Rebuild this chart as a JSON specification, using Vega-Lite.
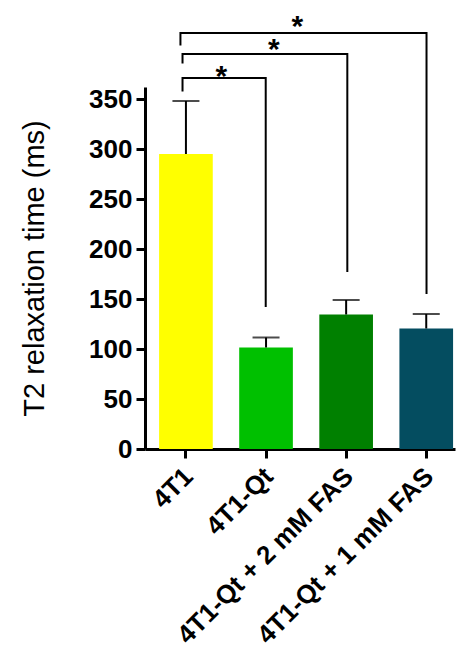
{
  "$schema": "https://vega.github.io/schema/vega-lite/v6.json",
  "width": 310,
  "height": 362,
  "autosize": "none",
  "padding": {"left": 145, "top": 87, "right": 5, "bottom": 204},
  "config": {"view": {"stroke": null}, "font": "Liberation Sans"},
  "datasets": {
    "bars": [
      {"group": "4T1", "t2": 295, "upper": 348},
      {"group": "4T1-Qt", "t2": 101.5, "upper": 111.5},
      {"group": "4T1-Qt + 2 mM FAS", "t2": 134.5, "upper": 149},
      {"group": "4T1-Qt + 1 mM FAS", "t2": 120.5, "upper": 135}
    ],
    "brackets": [
      {"id": "b1", "ord": 1, "pos": -0.066, "val": 403.5},
      {"id": "b1", "ord": 2, "pos": -0.066, "val": 416},
      {"id": "b1", "ord": 3, "pos": 3.01, "val": 416},
      {"id": "b1", "ord": 4, "pos": 3.01, "val": 155},
      {"id": "b2", "ord": 1, "pos": -0.04, "val": 385.5},
      {"id": "b2", "ord": 2, "pos": -0.04, "val": 395},
      {"id": "b2", "ord": 3, "pos": 2.02, "val": 395},
      {"id": "b2", "ord": 4, "pos": 2.02, "val": 177},
      {"id": "b3", "ord": 1, "pos": -0.04, "val": 357.5},
      {"id": "b3", "ord": 2, "pos": -0.04, "val": 371},
      {"id": "b3", "ord": 3, "pos": 1.0, "val": 371},
      {"id": "b3", "ord": 4, "pos": 1.0, "val": 142}
    ],
    "stars": [
      {"pos": 1.396, "val": 413, "label": "*"},
      {"pos": 1.1, "val": 390.5, "label": "*"},
      {"pos": 0.446, "val": 363.5, "label": "*"}
    ]
  },
  "layer": [
    {
      "data": {"name": "bars"},
      "encoding": {
        "x": {
          "field": "group",
          "type": "nominal",
          "sort": null,
          "scale": {"paddingInner": 0.33, "paddingOuter": 0.1, "align": 0.88},
          "axis": {
            "title": null,
            "labelAngle": -45,
            "labelAlign": "right",
            "labelBaseline": "middle",
            "labelFontSize": 26,
            "labelFontWeight": "bold",
            "labelColor": "#000",
            "labelLimit": 500,
            "labelOffset": 3,
            "domainColor": "#000",
            "domainWidth": 3,
            "tickColor": "#000",
            "tickWidth": 3,
            "tickSize": 9,
            "labelPadding": 14
          }
        }
      },
      "layer": [
        {
          "mark": {"type": "bar"},
          "encoding": {
            "y": {
              "field": "t2",
              "type": "quantitative",
              "scale": {"domain": [0, 362], "nice": false},
              "axis": {
                "title": "T2 relaxation time (ms)",
                "values": [0, 50, 100, 150, 200, 250, 300, 350],
                "grid": false,
                "labelFontSize": 26,
                "labelFontWeight": "bold",
                "labelColor": "#000",
                "labelPadding": 4,
                "domainColor": "#000",
                "domainWidth": 3,
                "tickColor": "#000",
                "tickWidth": 3,
                "tickSize": 9,
                "titleFontSize": 29,
                "titleFontWeight": "normal",
                "titleColor": "#000",
                "titlePadding": 39
              }
            },
            "color": {
              "field": "group",
              "type": "nominal",
              "sort": null,
              "scale": {
                "domain": ["4T1", "4T1-Qt", "4T1-Qt + 2 mM FAS", "4T1-Qt + 1 mM FAS"],
                "range": ["#FFFF00", "#00C000", "#008000", "#044D60"]
              },
              "legend": null
            }
          }
        },
        {
          "mark": {"type": "rule", "color": "#000", "strokeWidth": 2},
          "encoding": {
            "y": {"field": "t2", "type": "quantitative", "scale": {"domain": [0, 362], "nice": false}},
            "y2": {"field": "upper"}
          }
        },
        {
          "mark": {"type": "tick", "color": "#000", "thickness": 2, "size": 27},
          "encoding": {
            "y": {"field": "upper", "type": "quantitative", "scale": {"domain": [0, 362], "nice": false}}
          }
        }
      ]
    },
    {
      "data": {"name": "brackets"},
      "mark": {"type": "line", "color": "#000", "strokeWidth": 2},
      "encoding": {
        "x": {"field": "pos", "type": "quantitative", "scale": {"domain": [-0.509, 3.366], "nice": false, "zero": false}, "axis": null},
        "y": {"field": "val", "type": "quantitative", "scale": {"domain": [0, 362], "nice": false}},
        "detail": {"field": "id"},
        "order": {"field": "ord"}
      }
    },
    {
      "data": {"name": "stars"},
      "mark": {"type": "text", "fontSize": 30, "fontWeight": "bold", "baseline": "alphabetic", "align": "center", "color": "#000"},
      "encoding": {
        "x": {"field": "pos", "type": "quantitative", "scale": {"domain": [-0.509, 3.366], "nice": false, "zero": false}, "axis": null},
        "y": {"field": "val", "type": "quantitative", "scale": {"domain": [0, 362], "nice": false}},
        "text": {"field": "label"}
      }
    }
  ],
  "resolve": {"scale": {"x": "independent"}, "axis": {"x": "independent"}}
}
